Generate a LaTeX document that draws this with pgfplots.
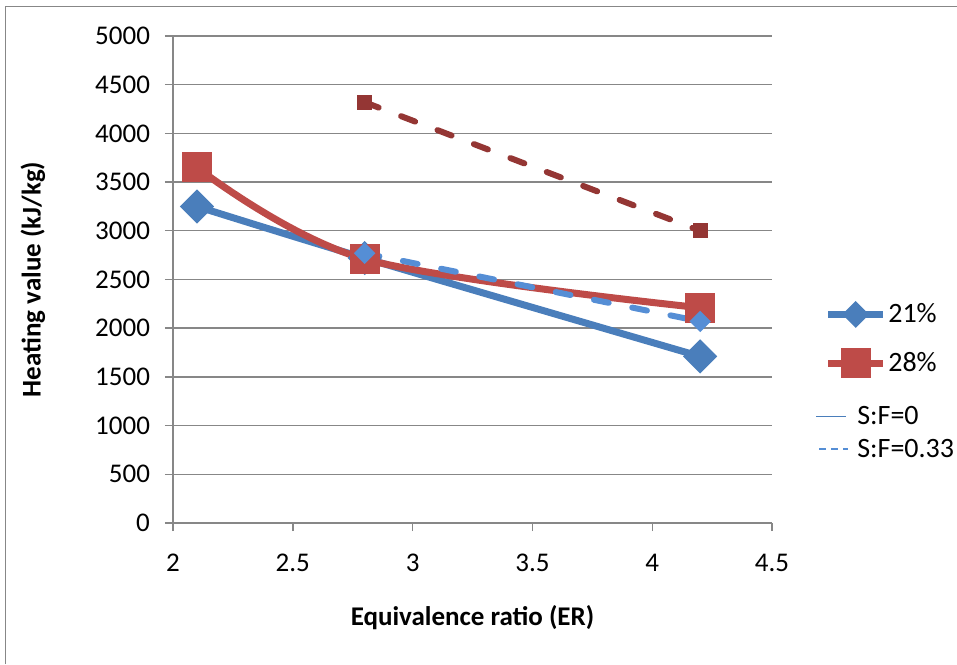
\documentclass[border=0pt]{standalone}
\usepackage{fontspec}
\setmainfont{Carlito}
\usepackage{pgfplots}
\pgfplotsset{compat=1.18}
\definecolor{cblue}{HTML}{4A7EBB}
\definecolor{cred}{HTML}{BE4B48}
\definecolor{cdred}{HTML}{943634}
\definecolor{cblue2}{HTML}{558ED5}
\definecolor{cgrid}{HTML}{878787}
\pgfplotsset{mainleg/.style={legend image code/.code={\draw[mark repeat=2,mark phase=2,##1] plot coordinates {(0pt,0pt) (13.75pt,0pt) (27.5pt,0pt)};}}}
\pgfplotsset{mainlegb/.style={legend image code/.code={\draw[mark repeat=2,mark phase=2,##1,mark size=3pt] plot coordinates {(0pt,0pt) (13.75pt,0pt) (27.5pt,0pt)};}}}
\pgfplotsset{sfzero/.style={legend image code/.code={\draw[draw=cblue, line width=0.8pt] (-6pt,0pt) -- (9pt,0pt);}}}
\pgfplotsset{sfthree/.style={legend image code/.code={\draw[draw=cblue2, line width=1pt, dash pattern=on 3.5pt off 2.5pt] (-4.5pt,0pt) -- (10pt,0pt);}}}
\begin{document}
\begin{tikzpicture}
\useasboundingbox (0,0) rectangle (478.5pt,332pt);
\draw[color=cgrid, line width=0.5pt] (2.5pt,0) -- (2.5pt,328.5pt) -- (478.5pt,328.5pt);
\begin{axis}[
  at={(86.5pt,70.5pt)}, anchor=south west,
  scale only axis, width=299.5pt, height=243.5pt,
  xmin=2, xmax=4.5, ymin=0, ymax=5000,
  xtick={2,2.5,3,3.5,4,4.5}, ytick={0,500,1000,1500,2000,2500,3000,3500,4000,4500,5000},
  axis x line*=bottom, axis y line*=left,
  ymajorgrids, grid style={color=cgrid, line width=0.7pt},
  axis line style={color=cgrid, line width=0.7pt},
  tick style={color=cgrid, line width=0.7pt},
  tick align=outside, major tick length=4pt,
  /pgf/number format/1000 sep={},
  /pgf/number format/assume math mode=true,
  ticklabel style={font=\fontsize{13.5}{16}\selectfont},
  yticklabel style={xshift=-4pt},
  xticklabel style={yshift=-8pt},
  xlabel={\textbf{Equivalence ratio (ER)}},
  ylabel={\textbf{Heating value (kJ/kg)}},
  label style={font=\fontsize{13.5}{16}\selectfont},
  xlabel style={at={(axis description cs:0.5,-0.195)}, anchor=center},
  ylabel style={at={(axis description cs:-0.2337,0.5)}, anchor=center, rotate=0},
  legend style={at={(axis description cs:1.0718,0.462)}, anchor=north west,
    draw=none, fill=none, inner sep=0pt, row sep=0pt, column sep=0.8pt,
    font=\fontsize{14}{16}\selectfont, nodes={inner sep=0pt, text depth=}},
  legend cell align=left,
]
\addplot[cblue, line width=3.5pt, smooth, tension=0.5, mark=square*, mark size=4.3pt,
  mark options={rotate=45, solid, fill=cblue}, mainlegb]
  coordinates {(2.1,3250) (2.8,2720) (4.2,1710)};
\addlegendentry{21\%\rule[-4pt]{0pt}{16pt}}
\addplot[cred, line width=3.5pt, smooth, tension=0.55, mark=square*, mark size=5.75pt,
  mark options={solid, fill=cred}, mainleg]
  coordinates {(2.1,3650) (2.8,2710) (4.2,2210)};
\addlegendentry{28\%\rule[-12.5pt]{0pt}{33pt}}
\addplot[cblue2, line width=3pt, dash pattern=on 7.5pt off 12pt, line cap=round,
  mark=square*, mark size=2.3pt, mark options={rotate=45, solid, fill=cblue2}, forget plot]
  coordinates {(2.8,2770) (4.2,2070)};
\addplot[cdred, line width=3pt, dash pattern=on 7.5pt off 12pt, line cap=round,
  mark=square*, mark size=2.2pt, mark options={solid, fill=cdred}, forget plot]
  coordinates {(2.8,4320) (4.2,3000)};
\addlegendimage{sfzero}
\addlegendentry{\hspace*{-15.5pt}S:F=0\rule[-6pt]{0pt}{20pt}}
\addlegendimage{sfthree}
\addlegendentry{\hspace*{-15.5pt}S:F=0.33\rule[-2.5pt]{0pt}{13pt}}
\end{axis}
\end{tikzpicture}
\end{document}
